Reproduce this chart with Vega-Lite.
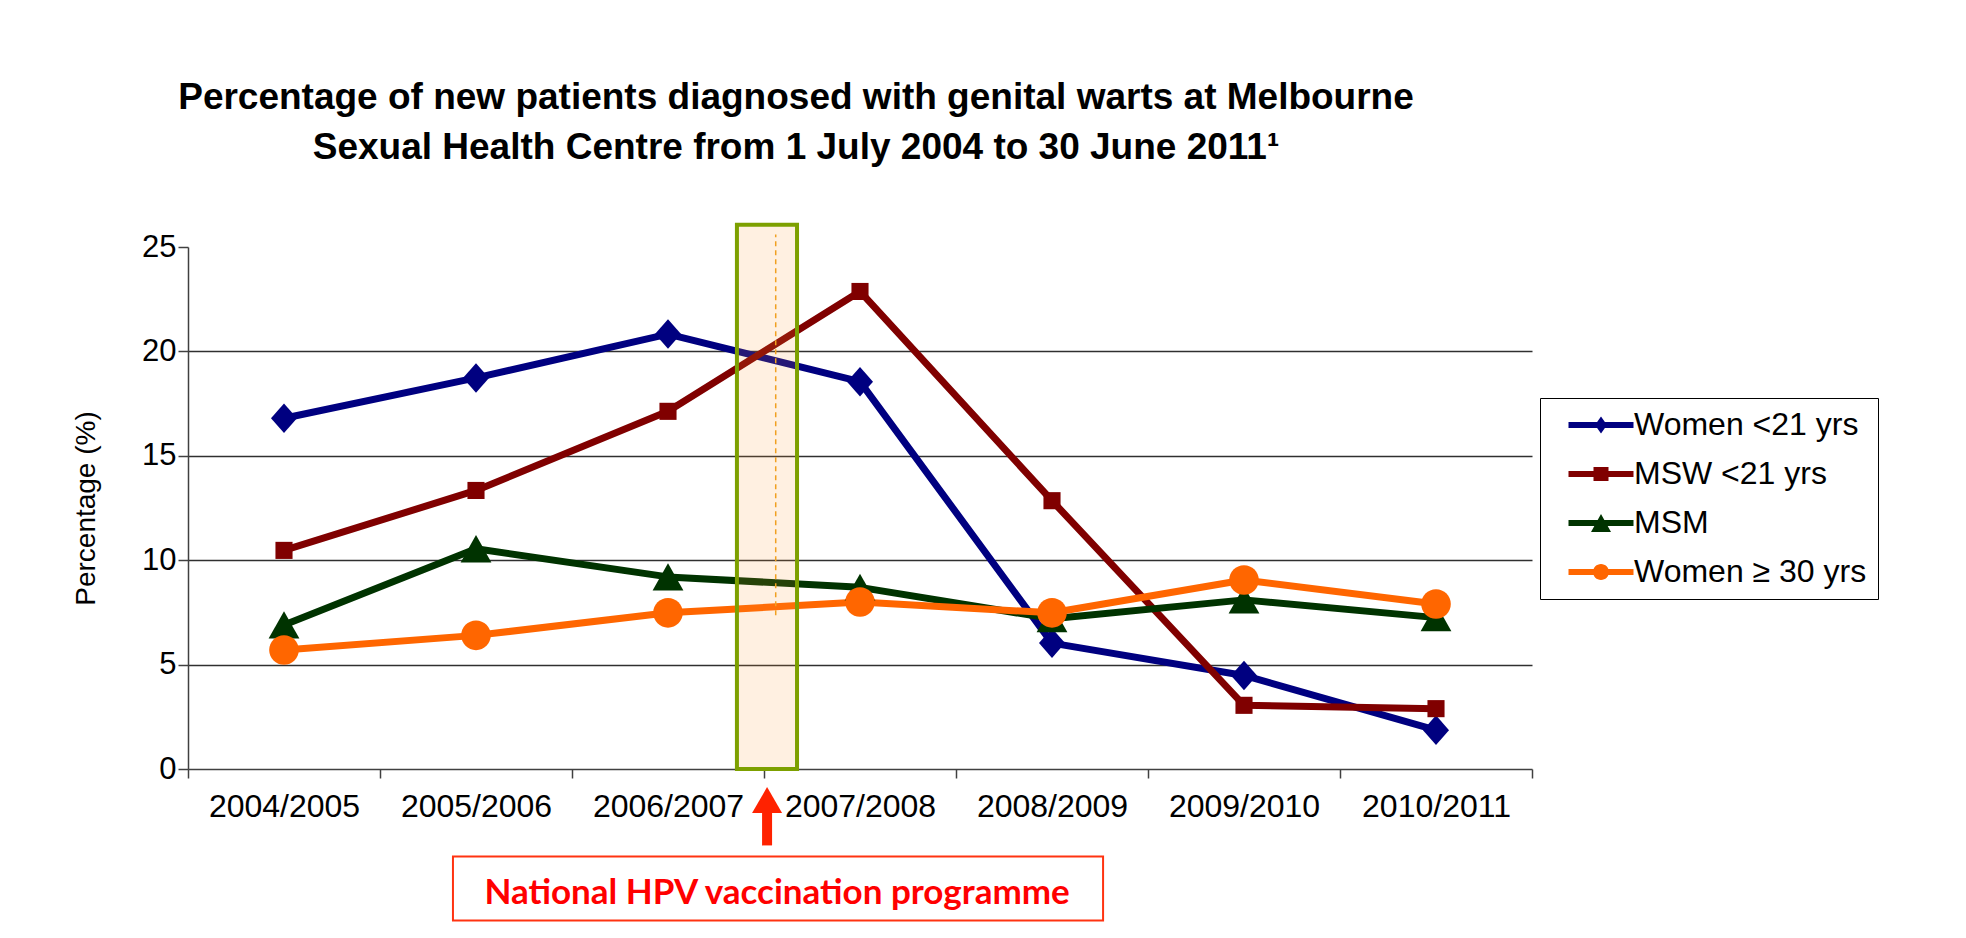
{
  "$schema": "https://vega.github.io/schema/vega-lite/v6.json",
  "width": 1344,
  "height": 522,
  "autosize": {"type": "none"},
  "padding": {"left": 188, "top": 247, "right": 434, "bottom": 169},
  "background": "#ffffff",
  "config": {"view": {"stroke": null}, "font": "Liberation Sans"},
  "title": {
    "text": ["Percentage of new patients diagnosed with genital warts at Melbourne", "Sexual Health Centre from 1 July 2004 to 30 June 2011¹"],
    "font": "Liberation Sans",
    "fontSize": 37,
    "fontWeight": "bold",
    "color": "#000000",
    "lineHeight": 50,
    "anchor": "middle",
    "frame": "group",
    "dx": -64,
    "offset": 56
  },
  "layer": [
    {
      "data": {"values": [
        {"period": "2004/2005", "series": "Women <21 yrs", "pct": 16.8},
        {"period": "2005/2006", "series": "Women <21 yrs", "pct": 18.73},
        {"period": "2006/2007", "series": "Women <21 yrs", "pct": 20.83},
        {"period": "2007/2008", "series": "Women <21 yrs", "pct": 18.55},
        {"period": "2008/2009", "series": "Women <21 yrs", "pct": 6.03},
        {"period": "2009/2010", "series": "Women <21 yrs", "pct": 4.48},
        {"period": "2010/2011", "series": "Women <21 yrs", "pct": 1.86},
        {"period": "2004/2005", "series": "MSW <21 yrs", "pct": 10.47},
        {"period": "2005/2006", "series": "MSW <21 yrs", "pct": 13.34},
        {"period": "2006/2007", "series": "MSW <21 yrs", "pct": 17.13},
        {"period": "2007/2008", "series": "MSW <21 yrs", "pct": 22.87},
        {"period": "2008/2009", "series": "MSW <21 yrs", "pct": 12.85},
        {"period": "2009/2010", "series": "MSW <21 yrs", "pct": 3.05},
        {"period": "2010/2011", "series": "MSW <21 yrs", "pct": 2.89},
        {"period": "2004/2005", "series": "MSM", "pct": 6.9},
        {"period": "2005/2006", "series": "MSM", "pct": 10.55},
        {"period": "2006/2007", "series": "MSM", "pct": 9.2},
        {"period": "2007/2008", "series": "MSM", "pct": 8.7},
        {"period": "2008/2009", "series": "MSM", "pct": 7.2},
        {"period": "2009/2010", "series": "MSM", "pct": 8.1},
        {"period": "2010/2011", "series": "MSM", "pct": 7.25},
        {"period": "2004/2005", "series": "Women ≥ 30 yrs", "pct": 5.7},
        {"period": "2005/2006", "series": "Women ≥ 30 yrs", "pct": 6.4},
        {"period": "2006/2007", "series": "Women ≥ 30 yrs", "pct": 7.48},
        {"period": "2007/2008", "series": "Women ≥ 30 yrs", "pct": 8.0},
        {"period": "2008/2009", "series": "Women ≥ 30 yrs", "pct": 7.48},
        {"period": "2009/2010", "series": "Women ≥ 30 yrs", "pct": 9.05},
        {"period": "2010/2011", "series": "Women ≥ 30 yrs", "pct": 7.9}
      ]},
      "encoding": {
        "x": {
          "field": "period", "type": "nominal", "sort": null,
          "scale": {"type": "band", "paddingInner": 0, "paddingOuter": 0},
          "axis": {
            "title": null, "tickBand": "extent", "labelAngle": 0,
            "labelFont": "Liberation Sans", "labelFontSize": 32, "labelColor": "#000000",
            "labelPadding": 13, "tickSize": 9, "tickWidth": 1.5, "tickColor": "#404040",
            "domainColor": "#404040", "domainWidth": 1.5, "grid": false
          }
        },
        "y": {
          "field": "pct", "type": "quantitative",
          "scale": {"domain": [0, 25], "nice": false, "zero": true},
          "axis": {
            "title": "Percentage (%)", "titleFont": "Liberation Sans", "titleFontSize": 28,
            "titleFontWeight": "normal", "titleColor": "#000000", "titlePadding": 41,
            "values": [0, 5, 10, 15, 20, 25],
            "labelFont": "Liberation Sans", "labelFontSize": 31, "labelColor": "#000000",
            "labelPadding": 2, "tickSize": 10, "tickWidth": 1.5, "tickColor": "#404040",
            "domainColor": "#404040", "domainWidth": 1.5,
            "grid": true, "gridColor": "#303030", "gridWidth": 1.5,
            "gridOpacity": {"condition": {"test": "datum.value === 0 || datum.value === 25", "value": 0}, "value": 1}
          }
        }
      },
      "layer": [
        {
          "mark": {"type": "line", "strokeWidth": 7, "strokeJoin": "round"},
          "encoding": {
            "stroke": {
              "field": "series", "type": "nominal",
              "scale": {
                "domain": ["Women ≥ 30 yrs", "MSM", "MSW <21 yrs", "Women <21 yrs"],
                "range": ["#FF6600", "#003300", "#800000", "#000080"]
              },
              "legend": null
            }
          }
        },
        {
          "transform": [{"filter": "false"}],
          "mark": {"type": "point", "filled": true, "opacity": 1},
          "encoding": {
            "color": {
              "field": "series", "type": "nominal",
              "scale": {
                "domain": ["Women <21 yrs", "MSW <21 yrs", "MSM", "Women ≥ 30 yrs"],
                "range": ["#000080", "#800000", "#003300", "#FF6600"]
              },
              "legend": {
                "orient": "none", "legendX": 1352, "legendY": 151,
                "title": null, "strokeColor": "#000000", "padding": 11,
                "labelFont": "Liberation Sans", "labelFontSize": 32, "labelColor": "#000000", "labelLimit": 500,
                "symbolSize": 400, "symbolOffset": 34, "labelOffset": 17, "rowPadding": 17, "symbolStrokeWidth": 0
              }
            },
            "shape": {
              "field": "series", "type": "nominal",
              "scale": {
                "domain": ["Women <21 yrs", "MSW <21 yrs", "MSM", "Women ≥ 30 yrs"],
                "range": [
                  "M-3.25,-0.3H3.25V0.3H-3.25Z M0,-0.85L0.6,0L0,0.85L-0.6,0Z",
                  "M-3.25,-0.3H3.25V0.3H-3.25Z M-0.75,-0.7H0.75V0.7H-0.75Z",
                  "M-3.25,-0.3H3.25V0.3H-3.25Z M0,-0.9L1,0.9L-1,0.9Z",
                  "M-3.25,-0.3H3.25V0.3H-3.25Z M-0.8,0A0.8,0.8 0 1 1 0.8,0A0.8,0.8 0 1 1 -0.8,0Z"
                ]
              },
              "legend": {
                "orient": "none", "legendX": 1352, "legendY": 151,
                "title": null, "strokeColor": "#000000", "padding": 11,
                "labelFont": "Liberation Sans", "labelFontSize": 32, "labelColor": "#000000", "labelLimit": 500,
                "symbolSize": 400, "symbolOffset": 34, "labelOffset": 17, "rowPadding": 17, "symbolStrokeWidth": 0
              }
            }
          }
        },
        {
          "transform": [{"filter": "datum.series === 'Women <21 yrs'"}],
          "mark": {"type": "point", "filled": true, "opacity": 1, "size": 560, "strokeWidth": 0, "color": "#000080", "shape": "M0,-1.25L1.1,0L0,1.25L-1.1,0Z"}
        },
        {
          "transform": [{"filter": "datum.series === 'MSW <21 yrs'"}],
          "mark": {"type": "point", "filled": true, "opacity": 1, "size": 520, "strokeWidth": 0, "color": "#800000", "shape": "M-0.75,-0.75H0.75V0.75H-0.75Z"}
        },
        {
          "transform": [{"filter": "datum.series === 'MSM'"}],
          "mark": {"type": "point", "filled": true, "opacity": 1, "size": 520, "strokeWidth": 0, "color": "#003300", "shape": "M0,-1.2L1.35,1.2L-1.35,1.2Z"}
        },
        {
          "transform": [{"filter": "datum.series === 'Women ≥ 30 yrs'"}],
          "mark": {"type": "point", "filled": true, "opacity": 1, "size": 520, "strokeWidth": 0, "color": "#FF6600", "shape": "M-1.3,0A1.3,1.3 0 1 1 1.3,0A1.3,1.3 0 1 1 -1.3,0Z"}
        }
      ]
    },
    {
      "encoding": {
        "x": {"field": "x", "type": "quantitative", "scale": {"domain": [0, 7], "nice": false, "zero": false}, "axis": null},
        "y": {
          "field": "y", "type": "quantitative",
          "scale": {"domain": [0, 25], "nice": false, "zero": true},
          "axis": {
            "title": "Percentage (%)", "titleFont": "Liberation Sans", "titleFontSize": 28,
            "titleFontWeight": "normal", "titleColor": "#000000", "titlePadding": 41,
            "values": [0, 5, 10, 15, 20, 25],
            "labelFont": "Liberation Sans", "labelFontSize": 31, "labelColor": "#000000",
            "labelPadding": 2, "tickSize": 10, "tickWidth": 1.5, "tickColor": "#404040",
            "domainColor": "#404040", "domainWidth": 1.5,
            "grid": true, "gridColor": "#303030", "gridWidth": 1.5,
            "gridOpacity": {"condition": {"test": "datum.value === 0 || datum.value === 25", "value": 0}, "value": 1}
          }
        }
      },
      "layer": [
        {
          "data": {"values": [{"x": 2.859, "x2": 3.172, "y": 0, "y2": 26.06}]},
          "mark": {"type": "rect", "fill": "#FF9933", "fillOpacity": 0.15, "stroke": "#7DA000", "strokeWidth": 4},
          "encoding": {"x2": {"field": "x2"}, "y2": {"field": "y2"}}
        },
        {
          "data": {"values": [{"x": 3.061, "y": 7.36, "y2": 25.6}]},
          "mark": {"type": "rule", "stroke": "#F0A020", "strokeWidth": 1.5, "strokeDash": [5, 4]},
          "encoding": {"y2": {"field": "y2"}}
        },
        {
          "data": {"values": [{"x": 3.016, "y": -1.9, "y2": -3.66}]},
          "mark": {"type": "rule", "stroke": "#FF2200", "strokeWidth": 10},
          "encoding": {"y2": {"field": "y2"}}
        },
        {
          "data": {"values": [{"x": 3.016, "y": -1.49}]},
          "mark": {"type": "point", "shape": "triangle-up", "filled": true, "color": "#FF2200", "size": 900, "opacity": 1, "strokeWidth": 0}
        },
        {
          "data": {"values": [{"x": 1.38, "x2": 4.766, "y": -4.19, "y2": -7.26}]},
          "mark": {"type": "rect", "fill": "#FFFFFF", "stroke": "#FF3311", "strokeWidth": 2},
          "encoding": {"x2": {"field": "x2"}, "y2": {"field": "y2"}}
        },
        {
          "data": {"values": [{"x": 3.068, "y": -6.46, "label": "National HPV vaccination programme"}]},
          "mark": {"type": "text", "font": "Lato", "fontWeight": "bold", "fontSize": 35, "color": "#FF0000", "align": "center", "baseline": "alphabetic"},
          "encoding": {"text": {"field": "label"}}
        }
      ]
    }
  ],
  "resolve": {"scale": {"x": "independent"}}
}
